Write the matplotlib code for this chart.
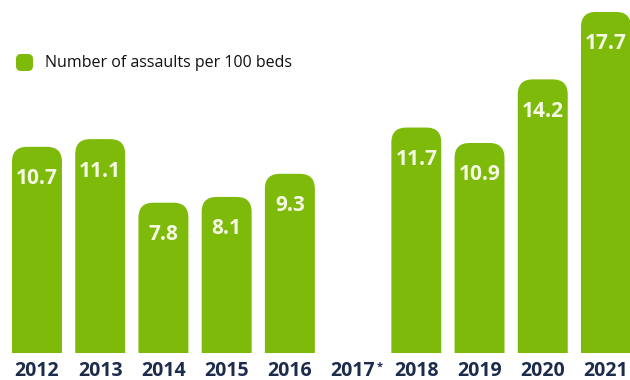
import numpy as np
import matplotlib
matplotlib.use("Agg")
import matplotlib.pyplot as plt
from matplotlib.patches import FancyBboxPatch

# Assault rate per 100 beds by year (no figure published for 2017)
years = ["2012", "2013", "2014", "2015", "2016", "2017*", "2018", "2019", "2020", "2021"]
assaults_per_100_beds = [10.7, 11.1, 7.8, 8.1, 9.3, np.nan, 11.7, 10.9, 14.2, 17.7]
legend_label = "Number of assaults per 100 beds"

GREEN = "#7dba0a"
LABEL_WHITE = "#f4f9e4"
YEAR_COLOR = "#1d2c4c"
FONT = ["Open Sans", "DejaVu Sans"]

fig = plt.figure(figsize=(6.3, 3.8), dpi=100)
ax = fig.add_axes([0.0, 27 / 380, 1.0, 353 / 380])
ax.set_xlim(-0.585, 9.38)
ax.set_ylim(0, 18.32)
for s in ax.spines.values():
    s.set_visible(False)
ax.set_yticks([])

x = np.arange(len(years))
bar_width = 0.79
bars = ax.bar(x, np.nan_to_num(assaults_per_100_beds), width=bar_width, color="none")

# pixel-to-data ratios so the rounded corners stay circular on screen
fig.canvas.draw()
bbox = ax.get_window_extent()
x_per_px = (ax.get_xlim()[1] - ax.get_xlim()[0]) / bbox.width
y_per_px = (ax.get_ylim()[1] - ax.get_ylim()[0]) / bbox.height
aspect = y_per_px / x_per_px
radius = 15 * x_per_px

for rect, val in zip(bars, assaults_per_100_beds):
    if np.isnan(val):
        continue
    x0, w, h = rect.get_x(), rect.get_width(), rect.get_height()
    extra = 2.0  # extend below the baseline; clipped by the axes
    patch = FancyBboxPatch((x0, -extra), w, h + extra,
                           boxstyle=f"round,pad=0,rounding_size={radius}",
                           mutation_aspect=aspect, facecolor=GREEN,
                           edgecolor="none")
    ax.add_patch(patch)
    ax.annotate(f"{val:.1f}", xy=(rect.get_x() + w / 2, h),
                xytext=(0, -23), textcoords="offset points",
                ha="center", va="center", color=LABEL_WHITE,
                fontsize=15, fontweight="bold", family=FONT)

# year labels along the baseline
ax.set_xticks(x)
ax.set_xticklabels([y.rstrip("*") for y in years], fontsize=14,
                   fontweight="bold", color=YEAR_COLOR, family=FONT)
ax.tick_params(axis="x", length=0, pad=6)
for lab, y in zip(ax.get_xticklabels(), years):
    if y.endswith("*"):
        lab.set_x(lab.get_position()[0])
        ax.annotate("*", xy=(1, 1), xycoords=lab, xytext=(1.0, 0),
                    textcoords="offset points", ha="left", va="top",
                    fontsize=8, fontweight="bold", color=YEAR_COLOR,
                    family=FONT)

# legend: rounded swatch plus caption
sw = FancyBboxPatch((16 / 630, 1 - 71 / 380), 17 / 630, 17 / 380,
                    boxstyle=f"round,pad=0,rounding_size={5 / 630}",
                    mutation_aspect=630 / 380, transform=fig.transFigure,
                    facecolor=GREEN, edgecolor="none")
fig.patches.append(sw)
fig.text(45 / 630, 1 - 63 / 380, legend_label, ha="left", va="center",
         fontsize=11.5, color="#111111", family=FONT)

fig.savefig("out.png", dpi=100)
